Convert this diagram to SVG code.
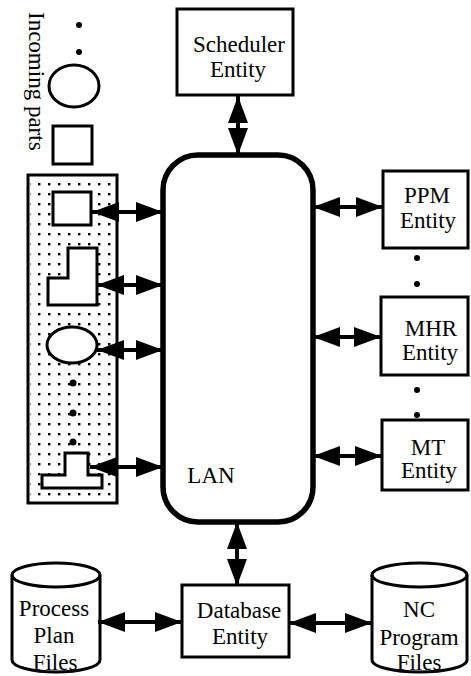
<svg xmlns="http://www.w3.org/2000/svg" width="471" height="676" viewBox="0 0 471 676">
<defs>
<marker id="ah" markerUnits="userSpaceOnUse" markerWidth="28" markerHeight="22" refX="27" refY="10" orient="auto-start-reverse" viewBox="0 0 28 20">
<path d="M0,0 L27,10 L0,20 Z" fill="#000"/>
</marker>
<pattern id="dots" patternUnits="userSpaceOnUse" x="34" y="179" width="10" height="10">
<rect x="4" y="4" width="2.4" height="2.4" fill="#000"/>
</pattern>
</defs>
<rect width="471" height="676" fill="#fff"/>

<g font-family="Liberation Serif" font-size="23" fill="#000">
<g id="incoming">
<text transform="translate(29,12) rotate(90)">Incoming parts</text>
<circle cx="79" cy="25" r="3"/>
<circle cx="79" cy="52" r="3"/>
<ellipse cx="74" cy="86" rx="25" ry="21" fill="#fff" stroke="#000" stroke-width="3"/>
<rect x="53" y="126" width="39" height="38" fill="#fff" stroke="#000" stroke-width="3"/>
</g>

<g id="cell">
<rect x="28" y="175" width="89" height="328" fill="#fff" stroke="#000" stroke-width="3"/>
<rect x="30" y="177" width="85" height="324" fill="url(#dots)"/>
<g fill="#fff" stroke="#000" stroke-width="3">
<rect x="53" y="192" width="38" height="33"/>
<path d="M68,248 H97 V305 H48 V278 H68 Z"/>
<ellipse cx="72" cy="345" rx="25" ry="18"/>
<path d="M65,453 H88 V475 H102 V488 H42 V475 H65 Z"/>
</g>
<circle cx="73" cy="383" r="3.5"/>
<circle cx="73" cy="413" r="3.5"/>
<circle cx="73" cy="442" r="3.5"/>
</g>

<g id="scheduler" text-anchor="middle">
<rect x="177" y="9" width="116" height="86" fill="#fff" stroke="#000" stroke-width="3"/>
<text x="239" y="52">Scheduler</text>
<text x="238" y="77">Entity</text>
</g>

<g id="lan" text-anchor="middle">
<rect x="163" y="155" width="150" height="367" rx="35" ry="35" fill="#fff" stroke="#000" stroke-width="5.5"/>
<text x="211" y="483">LAN</text>
</g>

<g id="ppm" text-anchor="middle">
<rect x="383" y="171" width="85" height="77" fill="#fff" stroke="#000" stroke-width="3"/>
<text x="427" y="203">PPM</text>
<text x="428" y="228">Entity</text>
</g>
<g id="ellipsis-right">
<circle cx="417" cy="258" r="3"/>
<circle cx="417" cy="284" r="3"/>
<circle cx="417" cy="390" r="3"/>
<circle cx="417" cy="415" r="3"/>
</g>
<g id="mhr" text-anchor="middle">
<rect x="381" y="297" width="87" height="78" fill="#fff" stroke="#000" stroke-width="3"/>
<text x="431" y="336">MHR</text>
<text x="430" y="360">Entity</text>
</g>
<g id="mt" text-anchor="middle">
<rect x="382" y="420" width="86" height="70" fill="#fff" stroke="#000" stroke-width="3"/>
<text x="428" y="455">MT</text>
<text x="429" y="478">Entity</text>
</g>

<g id="database" text-anchor="middle">
<rect x="182" y="585" width="107" height="72" fill="#fff" stroke="#000" stroke-width="3"/>
<text x="239" y="618">Database</text>
<text x="240" y="644">Entity</text>
</g>

<g id="process-plan" text-anchor="middle">
<path d="M12,575 A44,12 0 0 1 100,575 V660 A44,12 0 0 1 12,660 Z" fill="#fff" stroke="#000" stroke-width="3"/>
<path d="M12,575 A44,12 0 0 0 100,575" fill="none" stroke="#000" stroke-width="3"/>
<text x="54" y="616">Process</text>
<text x="54" y="643">Plan</text>
<text x="55" y="670">Files</text>
</g>

<g id="nc-program" text-anchor="middle">
<path d="M372,575 A47.5,12 0 0 1 467,575 V660 A47.5,12 0 0 1 372,660 Z" fill="#fff" stroke="#000" stroke-width="3"/>
<path d="M372,575 A47.5,12 0 0 0 467,575" fill="none" stroke="#000" stroke-width="3"/>
<text x="419" y="617">NC</text>
<text x="419" y="645">Program</text>
<text x="419" y="670">Files</text>
</g>
</g>

<g id="connectors" stroke="#000" stroke-width="4" fill="none" marker-start="url(#ah)" marker-end="url(#ah)">
<line x1="238" y1="96" x2="238" y2="155"/>
<line x1="92" y1="212" x2="163" y2="212"/>
<line x1="97" y1="285" x2="163" y2="285"/>
<line x1="97" y1="350" x2="163" y2="350"/>
<line x1="90" y1="467" x2="163" y2="467"/>
<line x1="313" y1="207" x2="383" y2="207"/>
<line x1="313" y1="337" x2="381" y2="337"/>
<line x1="313" y1="456" x2="382" y2="456"/>
<line x1="237" y1="522" x2="237" y2="586"/>
<line x1="98" y1="622" x2="182" y2="622"/>
<line x1="289" y1="623" x2="372" y2="623"/>
</g>
</svg>
